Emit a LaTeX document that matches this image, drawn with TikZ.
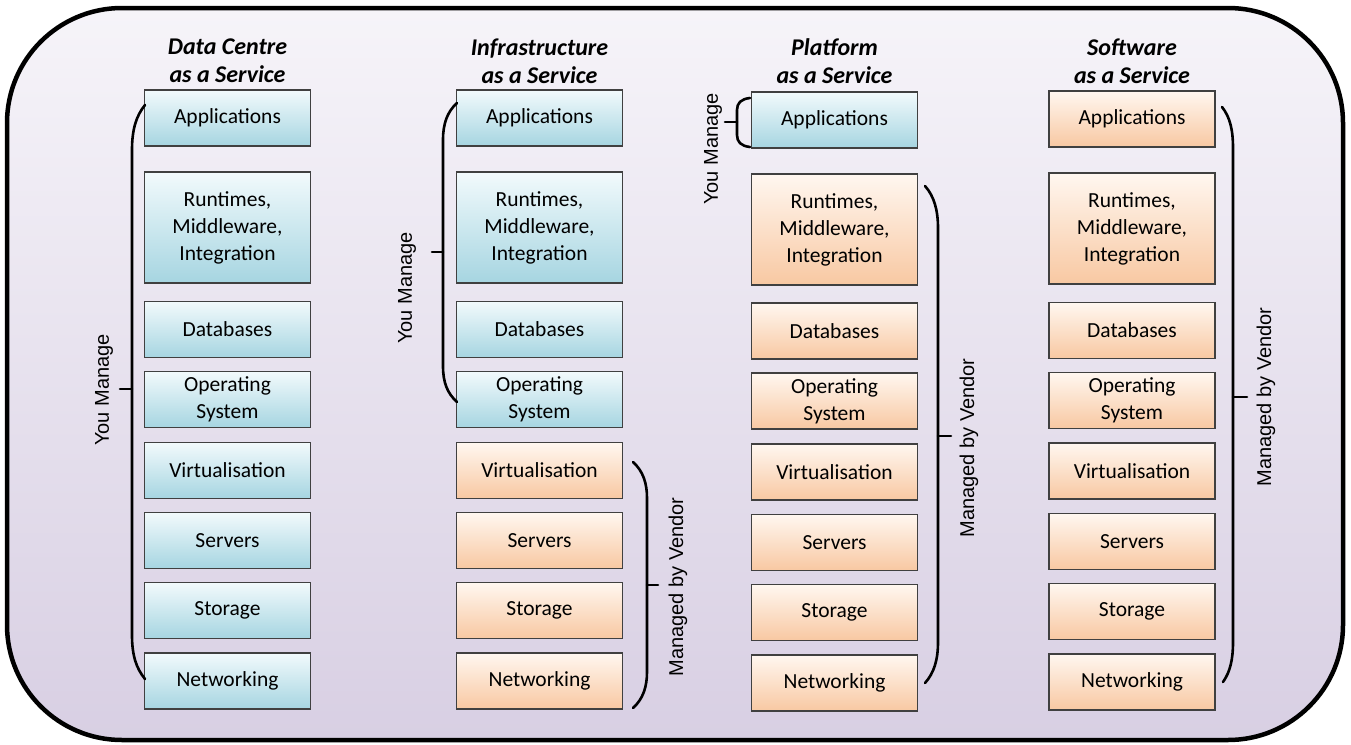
\documentclass[tikz,border=0pt]{standalone}
\usepackage{fontspec}
\setmainfont{Carlito}
\newfontfamily\labelfont{Liberation Sans}
\definecolor{bgtop}{HTML}{F6F4F9}
\definecolor{bgbot}{HTML}{D8CFE3}
\definecolor{bluetop}{HTML}{F2FAFC}
\definecolor{bluebot}{HTML}{A6D5E1}
\definecolor{orgtop}{HTML}{FFF7F0}
\definecolor{orgbot}{HTML}{F8C8A2}
\definecolor{boxline}{HTML}{404040}
\begin{document}
\begin{tikzpicture}[x=1pt,y=-1pt,
  cell/.style={draw=boxline,line width=1.2pt,minimum width=166pt,minimum height=56pt,
    inner sep=2pt,align=center,font=\fontsize{21.5}{27}\selectfont},
  tall/.style={minimum height=111pt},
  bluebox/.style={cell,top color=bluetop,bottom color=bluebot},
  orgbox/.style={cell,top color=orgtop,bottom color=orgbot},
  title/.style={align=center,font=\fontsize{24}{28}\selectfont\bfseries\itshape},
  side/.style={rotate=90,font=\labelfont\fontsize{20}{24}\selectfont},
  bracepath/.style={draw=black,line width=2.6pt,line cap=round}]
\useasboundingbox (0,0) rectangle (1351,744);
\draw[line width=4.5pt,rounded corners=115pt,top color=bgtop,bottom color=bgbot] (7,8) rectangle (1343,740);

% column 1
\node[title] (t1) at (227.5,61) {Data Centre\\as a Service};
\node[bluebox] (a1) at (227.5,118) {Applications};
\node[bluebox,tall] (r1) at (227.5,227.5) {Runtimes,\\Middleware,\\Integration};
\node[bluebox] (d1) at (227.5,329.5) {Databases};
\node[bluebox] (o1) at (227.5,399.5) {Operating\\System};
\node[bluebox] (v1) at (227.5,470.5) {Virtualisation};
\node[bluebox] (s1) at (227.5,540.5) {Servers};
\node[bluebox] (g1) at (227.5,610.5) {Storage};
\node[bluebox] (n1) at (227.5,681) {Networking};

% column 2
\node[title] (t2) at (539.5,61) {Infrastructure\\as a Service};
\node[bluebox] (a2) at (539.5,118) {Applications};
\node[bluebox,tall] (r2) at (539.5,227.5) {Runtimes,\\Middleware,\\Integration};
\node[bluebox] (d2) at (539.5,329.5) {Databases};
\node[bluebox] (o2) at (539.5,399.5) {Operating\\System};
\node[orgbox] (v2) at (539.5,470.5) {Virtualisation};
\node[orgbox] (s2) at (539.5,540.5) {Servers};
\node[orgbox] (g2) at (539.5,610.5) {Storage};
\node[orgbox] (n2) at (539.5,681) {Networking};

% column 3
\node[title] (t3) at (834.5,61) {Platform\\as a Service};
\node[bluebox] (a3) at (834.5,120) {Applications};
\node[orgbox,tall] (r3) at (834.5,229.5) {Runtimes,\\Middleware,\\Integration};
\node[orgbox] (d3) at (834.5,331) {Databases};
\node[orgbox] (o3) at (834.5,401) {Operating\\System};
\node[orgbox] (v3) at (834.5,472) {Virtualisation};
\node[orgbox] (s3) at (834.5,542.5) {Servers};
\node[orgbox] (g3) at (834.5,612.5) {Storage};
\node[orgbox] (n3) at (834.5,683) {Networking};

% column 4
\node[title] (t4) at (1132,61) {Software\\as a Service};
\node[orgbox] (a4) at (1132,119) {Applications};
\node[orgbox,tall] (r4) at (1132,228.5) {Runtimes,\\Middleware,\\Integration};
\node[orgbox] (d4) at (1132,330.5) {Databases};
\node[orgbox] (o4) at (1132,400.5) {Operating\\System};
\node[orgbox] (v4) at (1132,471) {Virtualisation};
\node[orgbox] (s4) at (1132,541.5) {Servers};
\node[orgbox] (g4) at (1132,611.5) {Storage};
\node[orgbox] (n4) at (1132,682) {Networking};

% braces
\path[bracepath] (145,105) .. controls (136,116) and (132,130) .. (132,150) -- (132,635)
  .. controls (132,655) and (136,668) .. (145,679);
\path[bracepath] (132,389) -- (120,389);
\node[side] (m1) at (104,390) {You Manage};

\path[bracepath] (457,103) .. controls (447,112) and (443,124) .. (443,140) -- (443,366)
  .. controls (443,382) and (447,393) .. (457,402);
\path[bracepath] (443,252) -- (432,252);
\node[side] (m2) at (407,288) {You Manage};

\path[bracepath] (633,462) .. controls (643,471) and (647,483) .. (647,498) -- (647,672)
  .. controls (647,687) and (643,699) .. (633,708);
\path[bracepath] (647,585) -- (658,585);
\node[side] (v2l) at (678,587) {Managed by Vendor};

\path[bracepath] (750,98) .. controls (741,99) and (737,103) .. (737,110) -- (737,135)
  .. controls (737,142) and (741,146) .. (750,147);
\path[bracepath] (737,122) -- (725,122);
\node[side] (m3) at (713,149) {You Manage};

\path[bracepath] (925,186) .. controls (934,196) and (938,210) .. (938,228) -- (938,642)
  .. controls (938,660) and (934,673) .. (925,683);
\path[bracepath] (938,436) -- (951,436);
\node[side] (v3l) at (969,448) {Managed by Vendor};

\path[bracepath] (1222,107) .. controls (1230,117) and (1233,130) .. (1233,148) -- (1233,642)
  .. controls (1233,660) and (1230,672) .. (1223,682);
\path[bracepath] (1233,397) -- (1247,397);
\node[side] (v4l) at (1266,397) {Managed by Vendor};
\end{tikzpicture}
\end{document}
